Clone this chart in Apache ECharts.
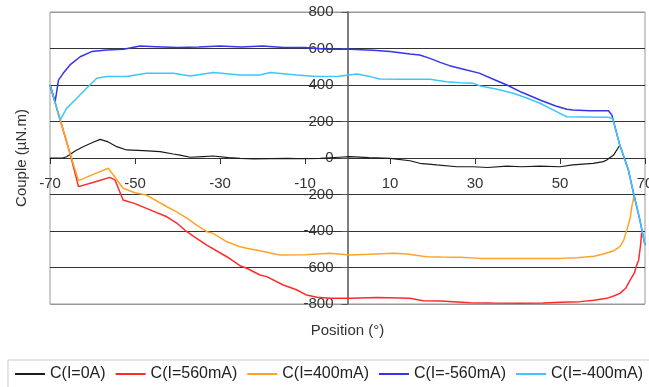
<!DOCTYPE html>
<html>
<head>
<meta charset="utf-8">
<script src="https://cdn.jsdelivr.net/npm/echarts@6/dist/echarts.min.js"></script>
<style>html,body{margin:0;padding:0;background:#fff}#c{width:649px;height:387px}</style>
</head>
<body>
<div id="c"></div>
<script>
const xTicks = [-70, -50, -30, -10, 10, 30, 50, 70];
const seriesNames = ['C(I=0A)', 'C(I=560mA)', 'C(I=400mA)', 'C(I=-560mA)', 'C(I=-400mA)'];

const c0A = [[-70,0],[-67,0],[-66.1,7],[-64,40],[-62.2,62],[-60,85],[-58.2,102],[-56.5,90],[-54.3,62],[-52,44],[-48,40],[-44.1,35],[-41,22],[-39.4,16],[-37,4],[-34,8],[-31.6,11],[-28,2],[-25.3,-2],[-22,-5],[-18,-3],[-14,-2],[-10,-4],[-6.4,-2],[-2,4],[0.6,7],[5,2],[10,-2],[14.7,-15],[17,-29],[21,-38],[25.7,-48],[29.6,-48],[33,-52],[37.5,-44],[41,-48],[45.3,-44],[50,-48],[53,-38],[57.8,-29],[60.2,-20],[61,-11],[62.6,16],[64.1,71]];

const c560 = [[-70,400],[-67.6,208],[-65.3,26],[-63.3,-157],[-59.5,-132],[-55.9,-106],[-54.7,-121],[-52.8,-230],[-50,-250],[-47.3,-276],[-42.5,-322],[-40,-360],[-37.8,-404],[-35.5,-440],[-33.1,-477],[-28.4,-541],[-25.3,-590],[-23.7,-604],[-20.6,-641],[-19,-650],[-15.1,-696],[-12,-722],[-9.6,-751],[-7.2,-763],[-4.1,-769],[0.6,-769],[7,-765],[14.7,-769],[17.8,-782],[22,-783],[28.8,-793],[34,-795],[40.6,-796],[46,-795],[50,-791],[54.7,-787],[58,-780],[61,-769],[62.8,-755],[64.1,-742],[65.5,-712],[66.5,-669],[67.5,-630],[68,-590],[68.5,-560],[69,-470],[69.2,-410]];

const c400 = [[-70,400],[-67.6,208],[-65.3,26],[-63.3,-124],[-59.8,-90],[-56.3,-56],[-55.1,-93],[-52.8,-166],[-50,-190],[-47.3,-203],[-42.5,-267],[-40,-298],[-37.8,-330],[-35.5,-368],[-33.1,-404],[-31.6,-413],[-28.4,-459],[-25.5,-485],[-23.7,-495],[-20.6,-508],[-15.9,-532],[-10,-530],[-4.1,-522],[0.6,-532],[5,-528],[10.8,-522],[14,-526],[18.6,-541],[22,-543],[26.5,-544],[31.2,-550],[40,-551],[50,-550],[54,-546],[58,-538],[60.2,-526],[62.5,-510],[64.1,-486],[65,-450],[65.7,-395],[66.5,-330],[66.9,-267],[67.5,-200]];

const cm560 = [[-70,400],[-68.8,308],[-68,427],[-66.9,464],[-65.3,510],[-62.9,555],[-60.2,583],[-56.7,592],[-52.7,596],[-48.8,614],[-45,610],[-40,605],[-35,608],[-30,614],[-25,608],[-20,614],[-15,606],[-10,605],[-4.9,596],[0.6,596],[6,590],[10,583],[14.7,570],[17,564],[19.4,546],[21.8,524],[24,506],[28,482],[31,465],[35,425],[37.5,400],[41,360],[45.3,318],[49,285],[51.6,267],[53.1,263],[57,259],[61.4,259],[62.2,236],[64.1,68],[66.1,-66],[67.3,-193],[68.8,-340],[70,-477]];

const cm400 = [[-70,400],[-67.6,208],[-66.1,272],[-63.7,327],[-61.4,382],[-59,437],[-56.7,446],[-52,446],[-47.3,464],[-41,464],[-37,449],[-31.6,468],[-25.3,455],[-20.6,455],[-18.2,468],[-12,455],[-7.2,446],[-2,448],[2.2,460],[5.3,446],[7.6,433],[12.4,431],[19.4,431],[23.3,418],[26.5,413],[29.6,409],[31.2,395],[35,378],[39,355],[42,330],[45.3,300],[48.5,262],[51.6,226],[55,225],[61.4,223],[62.4,215],[64.1,68],[66.1,-66],[67.3,-193],[68.8,-340],[70,-477]];

const colors = ['#1a1a1a', '#ff2a2a', '#ffa326', '#3535ee', '#3ec6fb'];
const dataSets = [c0A, c560, c400, cm560, cm400];
const FONT = 'Liberation Sans, Arial, sans-serif';

const chart = echarts.init(document.getElementById('c'), null, {renderer: 'canvas'});
const gridColors = ['#999','#333','#333','#333','#333','#333','#333','#333','#999'];

chart.setOption({
  animation: false,
  textStyle: {fontFamily: FONT},
  grid: {left: 50, right: 4, top: 12, bottom: 83, show: true, borderColor: '#999', borderWidth: 1, containLabel: false, outerBoundsMode: 'none'},
  xAxis: {
    type: 'value', min: -70, max: 70, position: 'bottom', offset: -146,
    axisLine: {onZero: false, lineStyle: {color: '#333', width: 1}},
    axisTick: {show: true, customValues: xTicks, length: 6, lineStyle: {color: '#333'}},
    axisLabel: {customValues: xTicks, margin: 18, fontSize: 15, color: '#333', fontFamily: FONT, showMinLabel: true, showMaxLabel: true, hideOverlap: false},
    splitLine: {show: false},
    name: 'Position (°)', nameLocation: 'middle', nameGap: 165,
    nameTextStyle: {fontSize: 15, color: '#333', fontFamily: FONT}
  },
  yAxis: {
    type: 'value', min: -800, max: 800, interval: 200, position: 'left', offset: -297.5,
    axisLine: {show: true, onZero: false, lineStyle: {color: '#555', width: 1.5}},
    axisTick: {show: true, length: 6, lineStyle: {color: '#555'}},
    axisLabel: {margin: 14, fontSize: 15, color: '#333', fontFamily: FONT, showMinLabel: true, showMaxLabel: true},
    splitLine: {show: true, lineStyle: {color: gridColors, width: 1.2}},
    name: 'Couple (µN.m)', nameLocation: 'middle', nameGap: 318, nameRotate: 90,
    nameTextStyle: {fontSize: 15, color: '#333', fontFamily: FONT}
  },
  legend: {
    left: 8, top: 360, width: 720,
    icon: 'rect', itemWidth: 30, itemHeight: 2, itemGap: 10,
    padding: [6, 10, 20, 7],
    borderColor: '#ccc', borderWidth: 1,
    textStyle: {fontSize: 16, color: '#222', fontFamily: FONT},
    data: seriesNames
  },
  series: seriesNames.map((n, i) => ({
    name: n, type: 'line', data: dataSets[i],
    showSymbol: false, symbol: 'none',
    color: colors[i],
    lineStyle: {color: colors[i], width: i === 0 ? 1.2 : 1.5},
    z: 3 + i
  }))
});
</script>
</body>
</html>
